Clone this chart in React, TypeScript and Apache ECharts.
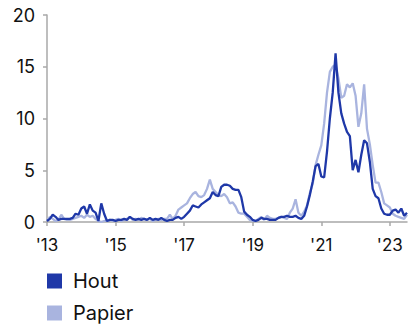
import React, { useEffect, useRef } from "react";
import * as echarts from "echarts";

const startYear = 2013;
const monthCount = 127;
const months: string[] = Array.from({ length: monthCount }, (_, i) => {
  const y = startYear + Math.floor(i / 12);
  const m = (i % 12) + 1;
  return `${y}-${m < 10 ? "0" + m : m}`;
});

const yTicks = [0, 5, 10, 15, 20];

const hout = [
  0.1, 0.3, 0.7, 0.5, 0.2, 0.3, 0.3, 0.3, 0.3, 0.4, 0.8, 0.7, 1.3, 1.5, 0.8, 1.7, 1.1, 0.9, 0.1, 1.8, 0.8, 0.1,
  0.2, 0.2, 0.1, 0.2, 0.2, 0.3, 0.2, 0.5, 0.3, 0.2, 0.3, 0.2, 0.3, 0.2, 0.4, 0.2, 0.3, 0.2, 0.4, 0.2, 0.1, 0.2,
  0.2, 0.4, 0.5, 0.3, 0.5, 0.8, 1.1, 1.6, 1.5, 1.4, 1.7, 1.9, 2.1, 2.3, 2.9, 2.6, 2.5, 3.4, 3.6, 3.6, 3.5, 3.2, 3.1, 3.1, 2.4, 1.0, 0.7, 0.5, 0.2,
  0.1, 0.2, 0.4, 0.3, 0.3, 0.2, 0.2, 0.2, 0.4, 0.5, 0.5, 0.6, 0.5, 0.5, 0.6, 0.4, 0.3, 0.6, 1.5, 2.6,
  3.9, 5.4, 5.6, 4.4, 4.3, 6.8, 10.0, 12.5, 16.3, 12.5, 10.5, 9.5, 8.7, 8.3, 5.0, 6.0, 4.8, 6.5, 7.9, 7.6, 5.8, 3.2, 2.5, 2.3, 1.3, 0.8, 0.7, 0.7, 1.1, 1.2, 0.9, 1.3, 0.6, 0.9,
];

const papier = [
  0.1, 0.5, 0.3, 0.1, 0.2, 0.7, 0.3, 0.2, 0.2, 0.3, 0.4, 0.5, 0.6, 0.4, 0.7, 0.5, 0.6, 0.3, 0.1, 0.0, 0.1, 0.1,
  0.2, 0.1, 0.2, 0.3, 0.1, 0.2, 0.3, 0.5, 0.2, 0.3, 0.2, 0.4, 0.3, 0.2, 0.3, 0.1, 0.2, 0.3, 0.2, 0.3,
  0.3, 0.7, 0.3, 0.6, 1.2, 1.4, 1.6, 1.8, 2.3, 2.7, 2.9, 2.5, 2.4, 2.6, 3.2, 4.1, 3.2, 2.9, 2.6, 2.5, 2.7, 2.4, 1.8, 1.9, 1.5, 0.9, 0.8, 0.8, 0.5, 0.2, 0.1,
  0.1, 0.3, 0.5, 0.2, 0.6, 0.4, 0.3, 0.3, 0.4, 0.5, 0.4, 0.3, 0.9, 1.3, 2.2, 0.9, 0.6, 1.0, 1.6, 2.8, 3.7,
  5.5, 6.5, 7.4, 9.5, 12.5, 14.5, 15.0, 15.2, 13.9, 12.0, 12.2, 13.3, 13.0, 13.4, 12.2, 9.2, 10.5, 13.3, 9.0, 7.5, 5.5, 3.8, 3.8, 2.9, 1.8, 1.6, 1.4, 0.8, 0.6, 0.5, 0.4, 0.3, 0.7,
];

const seriesNames = ["Hout", "Papier"];
const colors = ["#1f38a8", "#a9b4df"];

const isLabelMonth = (idx: number) => {
  const y = startYear + Math.floor(idx / 12);
  return idx % 12 === 0 && (y - startYear) % 2 === 0;
};

export default function App() {
  const ref = useRef<HTMLDivElement>(null);
  useEffect(() => {
    document.body.style.margin = "0";
    if (!ref.current) return;
    const chart = echarts.init(ref.current, undefined, { renderer: "svg" });
    const font = "Inter, 'Liberation Sans', Arial, sans-serif";
    chart.setOption({
      animation: false,
      textStyle: { fontFamily: font },
      grid: { left: 47, right: 2, top: 15, bottom: 102 },
      legend: {
        data: seriesNames,
        orient: "vertical",
        left: 47,
        top: 271,
        padding: 0,
        icon: "rect",
        itemWidth: 15,
        itemHeight: 15,
        itemGap: 12,
        textStyle: { fontSize: 20, color: "#111", fontFamily: font, padding: [0, 0, 0, 6] },
        selectedMode: false,
      },
      xAxis: {
        type: "category",
        data: months,
        boundaryGap: false,
        axisLine: { lineStyle: { color: "#a8a8a8", width: 1.5 } },
        axisTick: {
          show: true,
          length: 4,
          interval: (idx: number) => isLabelMonth(idx),
          lineStyle: { color: "#a8a8a8", width: 1.5 },
        },
        axisLabel: {
          interval: (idx: number) => isLabelMonth(idx),
          formatter: (v: string) => "'" + v.slice(2, 4),
          fontSize: 17,
          color: "#111",
          margin: 14,
          fontFamily: font,
        },
        splitLine: { show: false },
      },
      yAxis: {
        type: "value",
        min: yTicks[0],
        max: yTicks[yTicks.length - 1],
        interval: 5,
        axisLine: { show: true, lineStyle: { color: "#a8a8a8", width: 1.5 } },
        axisTick: { show: true, length: 4, lineStyle: { color: "#a8a8a8", width: 1.5 } },
        axisLabel: { fontSize: 18, color: "#111", margin: 12, fontFamily: font },
        splitLine: { show: false },
      },
      series: [
        {
          name: "Papier",
          type: "line",
          data: papier,
          showSymbol: false,
          color: colors[1],
          lineStyle: { width: 2.3, color: colors[1] },
        },
        {
          name: "Hout",
          type: "line",
          data: hout,
          showSymbol: false,
          color: colors[0],
          lineStyle: { width: 2.3, color: colors[0] },
        },
      ],
    });
    return () => chart.dispose();
  }, []);
  return <div ref={ref} style={{ width: 409, height: 324 }} />;
}
